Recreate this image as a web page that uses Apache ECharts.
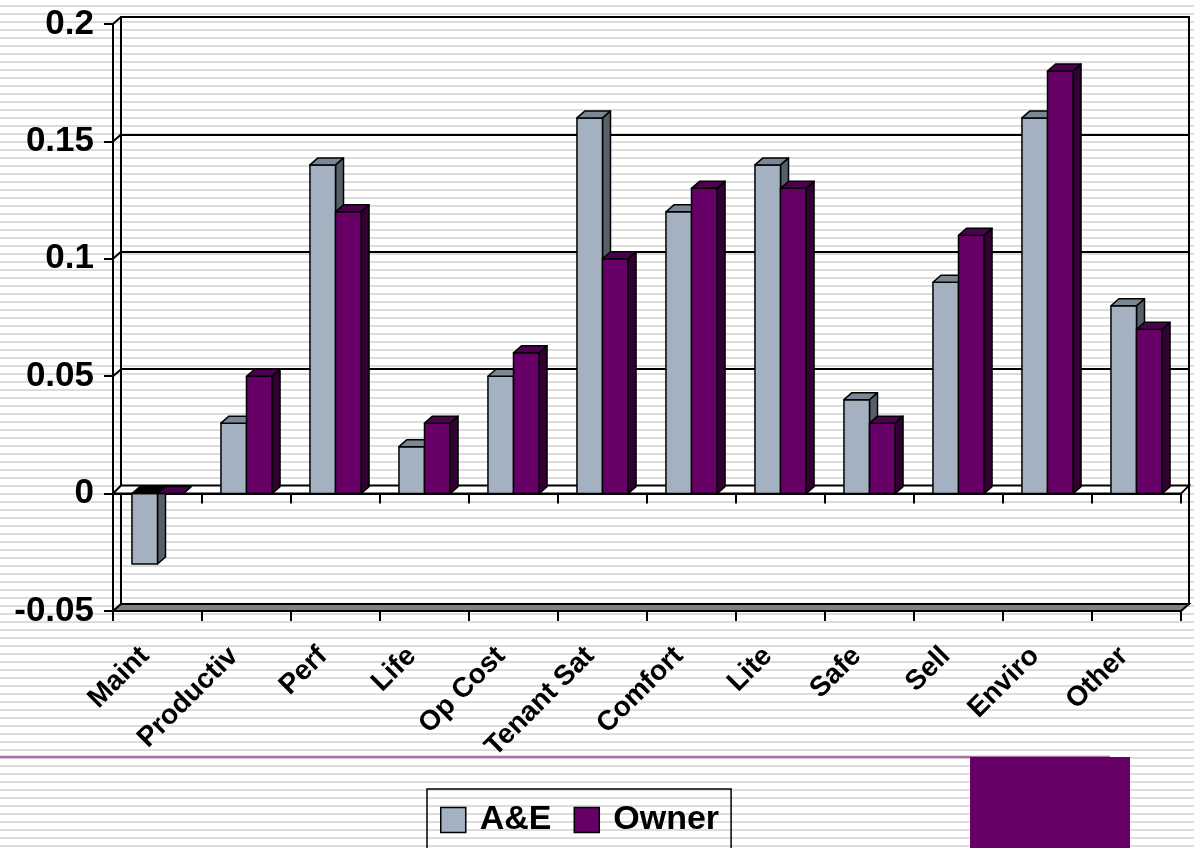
<!DOCTYPE html>
<html><head><meta charset="utf-8">
<script src="https://cdn.jsdelivr.net/npm/echarts@6/dist/echarts.min.js"></script>
<style>
html,body{margin:0;padding:0;}
body{width:1194px;height:848px;overflow:hidden;background:repeating-linear-gradient(to bottom,#fff 0px,#fff 5px,#dcdcdc 5px,#dcdcdc 7px,#fff 7px,#fff 8px);}
#c{width:1194px;height:848px;}
</style></head><body><div id="c"></div>
<script>
const categories = ['Maint','Productiv','Perf','Life','Op Cost','Tenant Sat','Comfort','Lite','Safe','Sell','Enviro','Other'];
const aeValues = [-0.03, 0.03, 0.14, 0.02, 0.05, 0.16, 0.12, 0.14, 0.04, 0.09, 0.16, 0.08];
const ownerValues = [0, 0.05, 0.12, 0.03, 0.06, 0.10, 0.13, 0.13, 0.03, 0.11, 0.18, 0.07];
const yTickValues = [-0.05, 0, 0.05, 0.1, 0.15, 0.2];
const seriesNames = ['A&E', 'Owner'];
const yMin = -0.05, yMax = 0.2, yStep = 0.05;

const DX = 8, DY = -7;
const FONT = "'Liberation Sans', Arial, Helvetica, sans-serif";
const palettes = [
  {front:'#A3B1C0', side:'#56606A', top:'#7A8794'},
  {front:'#660066', side:'#330033', top:'#4D004D'}
];

function barRender(sIdx) {
  const pal = palettes[sIdx];
  return function (params, api) {
    const i = api.value(0), v = api.value(1);
    const c = api.coord([i, v]);
    const z = api.coord([i, 0]);
    const band = api.size([1, 0])[0];
    const w = band * 0.287;
    const x0 = sIdx === 0 ? c[0] - w : c[0];
    const x1 = x0 + w;
    const yTop = Math.min(c[1], z[1]);
    const yBot = Math.max(c[1], z[1]);
    const neg = v < 0;
    const ls = {stroke:'#000', lineWidth:1.5, lineJoin:'round'};
    return {type:'group', children:[
      {type:'polygon', shape:{points:[[x1,yTop],[x1+DX,yTop+DY],[x1+DX,yBot+DY],[x1,yBot]]}, style:Object.assign({fill:pal.side}, ls)},
      {type:'rect', shape:{x:x0, y:yTop, width:w, height:yBot-yTop}, style:Object.assign({fill:pal.front}, ls)},
      {type:'polygon', shape:{points:[[x0,yTop],[x1,yTop],[x1+DX,yTop+DY],[x0+DX,yTop+DY]]}, style:Object.assign({fill: neg ? '#000' : pal.top}, ls)}
    ]};
  };
}

function structRender(params, api) {
  const v = api.value(1);
  const cs = params.coordSys;
  const y = api.coord([0, v])[1];
  const xl = cs.x, xr = cs.x + cs.width;
  const children = [];
  if (v === yMin) {
    children.push({type:'polygon', shape:{points:[[xl,y],[xr,y],[xr+DX,y+DY],[xl+DX,y+DY]]}, style:{fill:'#808080', stroke:'#000', lineWidth:2}});
  } else if (v === 0) {
    children.push({type:'polygon', shape:{points:[[xl,y],[xr,y],[xr+DX,y+DY-1],[xl+DX,y+DY-1]]}, style:{fill:'#fff', stroke:'#000', lineWidth:2}});
  } else {
    children.push({type:'line', shape:{x1:xl, y1:y, x2:xl+DX, y2:y+DY}, style:{stroke:'#000', lineWidth:2}});
  }
  return {type:'group', children};
}

const chart = echarts.init(document.getElementById('c'), null, {renderer:'canvas'});
const frontGrid = {left:113, right:13, top:24, bottom:237};
chart.setOption({
  animation:false,
  backgroundColor:'transparent',
  grid:[
    Object.assign({}, frontGrid),
    {left:121, right:5, top:17, bottom:244, show:true, borderColor:'#000', borderWidth:2, backgroundColor:'transparent'},
    Object.assign({}, frontGrid)
  ],
  xAxis:[
    {gridIndex:0, type:'category', data:categories, axisLine:{onZero:true, lineStyle:{color:'#000', width:2}},
     axisTick:{show:true, length:10, lineStyle:{color:'#000', width:2}}, axisLabel:{show:false}, splitLine:{show:false}},
    {gridIndex:1, type:'category', data:categories, show:false},
    {gridIndex:2, type:'category', data:categories, position:'bottom', axisLine:{show:false, onZero:false},
     axisTick:{show:true, length:10, lineStyle:{color:'#000', width:2}},
     axisLabel:{interval:0, rotate:45, margin:28, color:'#000', fontFamily:FONT, fontWeight:'bold', fontSize:28, padding:[0,18,0,0]}}
  ],
  yAxis:[
    {gridIndex:0, type:'value', min:yMin, max:yMax, interval:yStep,
     axisLine:{show:true, lineStyle:{color:'#000', width:2}},
     axisTick:{show:true, length:9, lineStyle:{color:'#000', width:2}},
     axisLabel:{margin:19, color:'#000', fontFamily:FONT, fontWeight:'bold', fontSize:35},
     splitLine:{show:false}},
    {gridIndex:1, type:'value', min:yMin, max:yMax, interval:yStep,
     axisLine:{show:true, lineStyle:{color:'#000', width:2}}, axisTick:{show:false}, axisLabel:{show:false},
     splitLine:{show:true, lineStyle:{color:'#000', width:2}}},
    {gridIndex:2, type:'value', min:yMin, max:yMax, interval:yStep, show:false, splitLine:{show:false}}
  ],
  legend:{
    data:seriesNames, left:427, top:789, orient:'horizontal', icon:'rect',
    itemWidth:25, itemHeight:25, itemGap:22, padding:[14,12,40,13],
    borderColor:'#000', borderWidth:1.5, backgroundColor:'transparent',
    itemStyle:{borderColor:'#000', borderWidth:1.5},
    textStyle:{fontFamily:FONT, fontWeight:'bold', fontSize:34, color:'#000', padding:[0,0,0,9]},
    selectedMode:false
  },
  graphic:[
    {type:'line', shape:{x1:0, y1:757, x2:1110, y2:757}, style:{stroke:'#A872A8', lineWidth:2.5}, z:1},
    {type:'rect', shape:{x:970, y:757, width:160, height:91}, style:{fill:'#660066'}, z:2}
  ],
  series:[
    {type:'custom', name:'structure', xAxisIndex:0, yAxisIndex:0, z:1, silent:true,
     data:yTickValues.map(v => [0, v]), renderItem:structRender},
    {type:'custom', name:seriesNames[0], xAxisIndex:0, yAxisIndex:0, z:3, silent:true,
     itemStyle:{color:palettes[0].front, borderColor:'#000', borderWidth:1.5},
     data:aeValues.map((v, i) => [i, v]), encode:{x:0, y:1}, renderItem:barRender(0)},
    {type:'custom', name:seriesNames[1], xAxisIndex:0, yAxisIndex:0, z:3, silent:true,
     itemStyle:{color:palettes[1].front, borderColor:'#000', borderWidth:1.5},
     data:ownerValues.map((v, i) => [i, v]), encode:{x:0, y:1}, renderItem:barRender(1)}
  ]
});
</script></body></html>
